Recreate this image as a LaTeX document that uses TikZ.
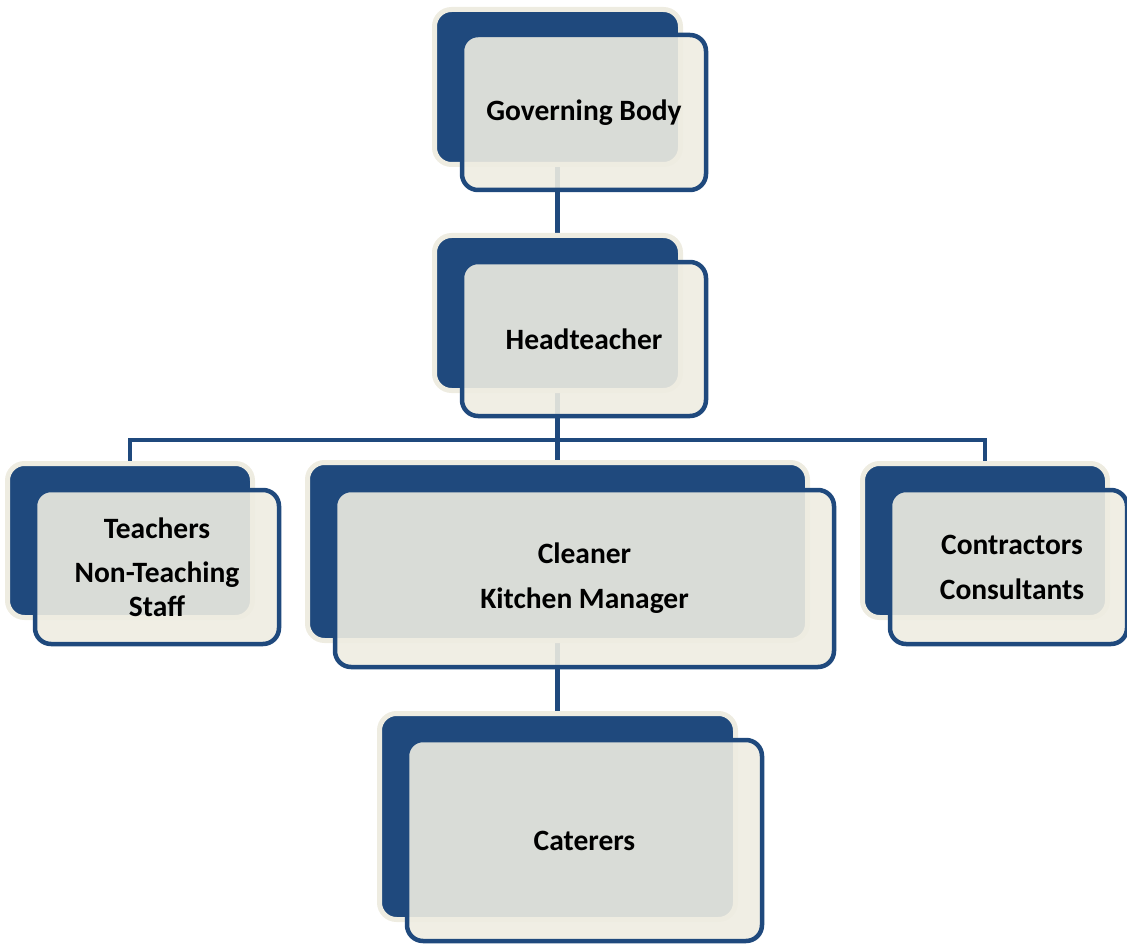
\documentclass[tikz,border=0pt]{standalone}
\usepackage{fontspec}
\setmainfont{Carlito}
\pgfdeclarelayer{bg}
\pgfsetlayers{bg,main}
\definecolor{navy}{HTML}{1F497D}
\definecolor{cream}{HTML}{EEECE1}
\begin{document}
\begin{tikzpicture}[x=1pt,y=-1pt,
  backbox/.style={draw=cream, line width=5pt, fill=navy, rounded corners=17pt, inner sep=0pt, outer sep=0pt},
  frontbox/.style={draw=navy, line width=4.5pt, fill=cream, fill opacity=0.9, text opacity=1, rounded corners=16pt, inner sep=0pt, outer sep=0pt, align=center, font=\bfseries\fontsize{29.5}{34}\selectfont},
  link/.style={draw=navy, line width=4.8pt}]
\useasboundingbox (0,0) rectangle (1127,944);
% Governing Body
\node[backbox, minimum width=246pt, minimum height=155pt] (gbB) at (557.5,87) {};
\node[frontbox, minimum width=244pt, minimum height=155pt] (gb) at (584,112.5) {Governing Body};
% Headteacher
\node[backbox, minimum width=246pt, minimum height=155pt] (htB) at (557.5,313) {};
\node[frontbox, minimum width=244pt, minimum height=154pt] (ht) at (584,339) {Headteacher};
% Teachers
\node[backbox, minimum width=245pt, minimum height=154pt] (tB) at (130,540.5) {};
\node[frontbox, minimum width=244pt, minimum height=154pt] (t) at (157,567) {Teachers\\[10pt]Non-Teaching\\Staff};
% Cleaner
\node[backbox, minimum width=500pt, minimum height=178pt] (clB) at (557.5,551.5) {};
\node[frontbox, minimum width=499pt, minimum height=177pt] (cl) at (584.5,578.5) {Cleaner\\[11pt]Kitchen Manager};
% Contractors
\node[backbox, minimum width=245pt, minimum height=154pt] (coB) at (985,540.5) {};
\node[frontbox, minimum width=237pt, minimum height=154pt] (co) at (1008.5,567) {\hspace*{7pt}Contractors\\[11pt]\hspace*{7pt}Consultants};
% Caterers
\node[backbox, minimum width=356pt, minimum height=206pt] (caB) at (557.5,816.5) {};
\node[frontbox, minimum width=355pt, minimum height=201pt] (ca) at (584.5,840.5) {Caterers};
\coordinate (bus) at (557.5,440);
\begin{pgfonlayer}{bg}
\draw[link] (gbB.center) -- (htB.center);
\draw[link] (htB.center) -- (bus) -- (clB.center);
\draw[link] (tB.center) |- (bus) -| (coB.center);
\draw[link] (clB.center) -- (caB.center);
\end{pgfonlayer}
\end{tikzpicture}
\end{document}
